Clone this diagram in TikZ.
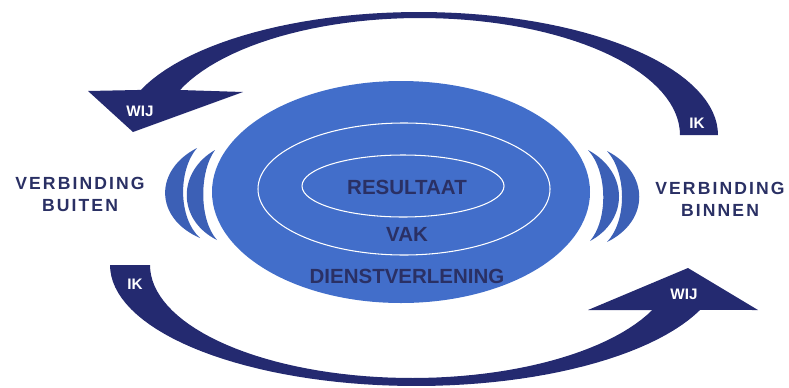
\documentclass[tikz,border=0pt]{standalone}
\usepackage{fontspec}
\setmainfont{Liberation Sans}
\usepackage{tikz}
\usetikzlibrary{positioning}
\definecolor{ringblue}{RGB}{66,110,202}
\definecolor{wavblue}{RGB}{60,96,182}
\definecolor{arrownavy}{RGB}{36,42,112}
\definecolor{textnavy}{RGB}{42,48,100}

\begin{document}
\begin{tikzpicture}[x=0.03cm,y=-0.03cm]
\tikzstyle{ringtext}=[font=\fontsize{17.5}{20}\selectfont\bfseries,text=textnavy,inner sep=0pt]
\tikzstyle{sidetext}=[font=\fontsize{15}{18.7}\selectfont\bfseries\addfontfeature{LetterSpace=12},text=textnavy,align=center,inner sep=0pt]
\tikzstyle{arrowtext}=[font=\fontsize{13}{15}\selectfont\bfseries,text=white,inner sep=0pt]
\tikzstyle{bigarrow}=[fill=arrownavy]
\tikzstyle{wave}=[fill=wavblue]
\tikzstyle{ring}=[draw=white,line width=0.9pt]

\useasboundingbox (0,0) rectangle (789,387);

% top arrow, IK -> WIJ
\fill[bigarrow] plot[domain=0:-158.5,samples=60,variable=\t] ({419+299*cos(\t)},{135+123*sin(\t)})
  -- (88,91) -- (133,132) -- (243,92) -- (180,90)
  -- plot[domain=-157.4:0,samples=60,variable=\t] ({420+260*cos(\t)},{135+117*sin(\t)}) -- cycle;
% bottom arrow, IK -> WIJ
\fill[bigarrow] plot[domain=180:21.8,samples=60,variable=\t] ({416+306*cos(\t)},{265+121*sin(\t)})
  -- (758,310) -- (688,268) -- (588,310) -- (652,310)
  -- plot[domain=23.5:180,samples=60,variable=\t] ({412+262*cos(\t)},{265+113*sin(\t)}) -- cycle;

% core
\fill[ringblue] (401,192) ellipse [x radius=189,y radius=111];
\draw[ring] (404,189) ellipse [x radius=146,y radius=66];
\draw[ring] (403,186) ellipse [x radius=101,y radius=31];

% waves
\fill[wave] (197,148) .. controls (154,170) and (154,218) .. (200,238) .. controls (178,218) and (178,170) .. (197,148) -- cycle;
\fill[wave] (215,150) .. controls (177,172) and (177,220) .. (217,240) .. controls (199,220) and (199,172) .. (215,150) -- cycle;
\fill[wave] (588,150) .. controls (629,172) and (629,220) .. (590,241) .. controls (608,220) and (608,172) .. (588,150) -- cycle;
\fill[wave] (607,151) .. controls (650,173) and (650,221) .. (607,242) .. controls (627,221) and (627,173) .. (607,151) -- cycle;

\node[ringtext] (res) at (407,187) {RESULTAAT};
\node[ringtext,below=9.9mm of res] (vak) {VAK};
\node[ringtext,below=8.1mm of vak] (dienst) {DIENSTVERLENING};

\node[sidetext] (buiten) at (80,194) {VERBINDING\\BUITEN};
\node[sidetext] (binnen) at (720,199) {VERBINDING\\BINNEN};

\node[arrowtext] (wijtop) at (140,111) {WIJ};
\node[arrowtext] (iktop) at (697,123) {IK};
\node[arrowtext] (ikbot) at (135,284) {IK};
\node[arrowtext] (wijbot) at (684,294) {WIJ};
\end{tikzpicture}
\end{document}
